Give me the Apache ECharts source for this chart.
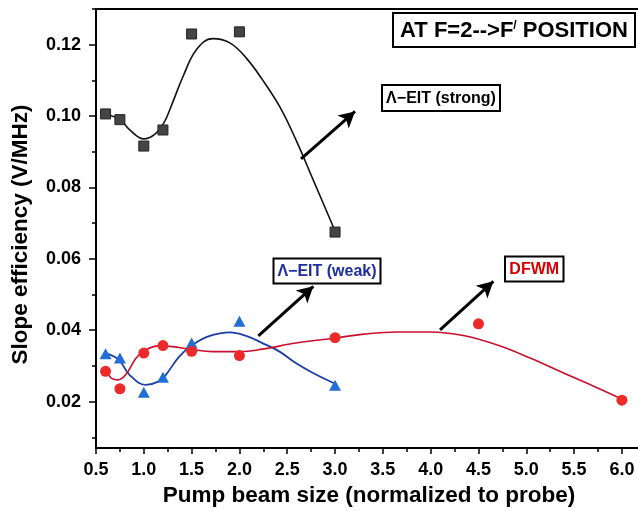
<!DOCTYPE html>
<html>
<head>
<meta charset="utf-8">
<script src="https://cdn.jsdelivr.net/npm/echarts@6/dist/echarts.min.js"></script>
<style>
    html, body { margin: 0; padding: 0; background: #fff; }
    #chart { width: 638px; height: 511px; }
</style>
</head>
<body>
<div id="chart"></div>
<script>
// measured points
var pumpX = [0.6, 0.75, 1.0, 1.2, 1.5, 2.0, 3.0];
var strongY = [0.1006, 0.0990, 0.0916, 0.0961, 0.1230, 0.1236, 0.0675];
var weakY = [0.0334, 0.0322, 0.0226, 0.0268, 0.0364, 0.0425, 0.0246];
var dfwmX = [0.6, 0.75, 1.0, 1.2, 1.5, 2.0, 3.0, 4.5, 6.0];
var dfwmY = [0.0285, 0.0236, 0.0336, 0.0357, 0.0341, 0.0329, 0.0379, 0.0418, 0.0204];

// fitted curves
var strongFitX = [0.6, 0.75, 0.85, 1.0, 1.11, 1.21, 1.3, 1.41, 1.55, 1.72, 1.9, 2.07, 2.24, 2.42, 2.59, 2.77, 3.0];
var strongFitY = [0.1006, 0.0990, 0.0962, 0.0936, 0.0948, 0.0981, 0.1037, 0.1111, 0.1186, 0.1217, 0.1205, 0.1163, 0.1102, 0.1027, 0.0934, 0.0822, 0.0678];
var weakFitX = [0.6, 0.74, 0.85, 1.02, 1.15, 1.23, 1.37, 1.51, 1.69, 1.9, 2.07, 2.24, 2.42, 2.59, 2.77, 3.0];
var weakFitY = [0.0336, 0.0317, 0.0275, 0.0247, 0.0256, 0.0275, 0.0326, 0.0359, 0.0384, 0.0394, 0.0384, 0.0364, 0.0340, 0.0308, 0.0280, 0.0250];
var dfwmFitX = [0.6, 0.66, 0.73, 0.81, 0.92, 1.02, 1.16, 1.3, 1.48, 1.72, 2.0, 2.24, 2.59, 3.0, 3.3, 3.65, 4.0, 4.34, 4.69, 5.04, 5.39, 5.74, 6.0];
var dfwmFitY = [0.0288, 0.0266, 0.0261, 0.0275, 0.0322, 0.0345, 0.0356, 0.0354, 0.0347, 0.0340, 0.0340, 0.0347, 0.0364, 0.0378, 0.0389, 0.0395, 0.0395, 0.0385, 0.0359, 0.0322, 0.0280, 0.0239, 0.0207];

// axis ticks
var yLabels = [0.02, 0.04, 0.06, 0.08, 0.10, 0.12];
var yMinor = [0.01, 0.03, 0.05, 0.07, 0.09, 0.11, 0.13];

var FONT = '"Liberation Sans", Arial, sans-serif';

function pairs(xs, ys) {
    return xs.map(function (x, i) { return [x, ys[i]]; });
}

function arrow(from, to) {
    return [{ coord: from }, { coord: to }];
}

function box(x, y, w, h, text, size, color) {
    return [{
        type: 'rect',
        shape: { x: x, y: y, width: w, height: h },
        style: { fill: '#fff', stroke: '#000', lineWidth: 2 },
        z: 10
    }, {
        type: 'text',
        x: x + w / 2,
        y: y + h / 2 + 1,
        style: {
            text: text,
            font: 'bold ' + size + 'px ' + FONT,
            fill: color,
            align: 'center',
            verticalAlign: 'middle'
        },
        z: 11
    }];
}

var chart = echarts.init(document.getElementById('chart'));

var graphics = [].concat(
    [{
        type: 'rect',
        shape: { x: 393, y: 13, width: 242, height: 34 },
        style: { fill: '#fff', stroke: '#000', lineWidth: 2 },
        z: 10
    }, {
        type: 'text',
        x: 514,
        y: 31,
        style: {
            text: '{a|AT F=2-->F}{s|/}{a| POSITION}',
            align: 'center',
            verticalAlign: 'middle',
            rich: {
                a: { font: 'bold 22px ' + FONT, fill: '#000' },
                s: { font: 'bold 12px ' + FONT, fill: '#000', verticalAlign: 'top', padding: [0, 0, 8, 0] }
            }
        },
        z: 11
    }],
    box(382, 85, 118, 26, 'Λ−EIT (strong)', 16, '#000'),
    box(273.5, 258.5, 107, 25, 'Λ−EIT (weak)', 16, '#1c2ea0'),
    box(505, 256.5, 58.5, 25, 'DFWM', 16, '#d50000')
);

chart.setOption({
    animation: false,
    // right edge of the frame sits just past the picture
    grid: {
        left: 96, top: 9, width: 546, bottom: 63,
        outerBoundsMode: 'none',
        show: true, borderColor: '#000', borderWidth: 2
    },
    xAxis: {
        type: 'value',
        min: 0.5, max: 6.21, interval: 0.5,
        name: 'Pump beam size (normalized to probe)',
        nameLocation: 'middle',
        nameGap: 36,
        nameTextStyle: { fontFamily: FONT, fontWeight: 'bold', fontSize: 22.5, color: '#000' },
        axisLine: { lineStyle: { color: '#000', width: 2 } },
        axisTick: { length: 6, lineStyle: { color: '#000', width: 1.5 } },
        minorTick: { show: true, splitNumber: 2, length: 4, lineStyle: { color: '#000', width: 1.5 } },
        splitLine: { show: false },
        axisLabel: {
            margin: 13, showMaxLabel: false,
            fontFamily: FONT, fontWeight: 'bold', fontSize: 18, color: '#000',
            formatter: function (v) { return v.toFixed(1); }
        }
    },
    yAxis: [{
        type: 'value',
        min: 0.007, max: 0.13,
        name: 'Slope efficiency (V/MHz)',
        nameLocation: 'middle',
        nameGap: 64,
        nameTextStyle: { fontFamily: FONT, fontWeight: 'bold', fontSize: 22.5, color: '#000', padding: [0, 12, 0, 0] },
        axisLine: { show: true, lineStyle: { color: '#000', width: 2 } },
        axisTick: { show: true, length: 7, customValues: yLabels, lineStyle: { color: '#000', width: 1.5 } },
        splitLine: { show: false },
        axisLabel: {
            margin: 15, customValues: yLabels,
            fontFamily: FONT, fontWeight: 'bold', fontSize: 18, color: '#000',
            formatter: function (v) { return v.toFixed(2); }
        }
    }, {
        // minor ticks only
        type: 'value',
        position: 'left',
        min: 0.007, max: 0.13,
        axisLine: { show: false },
        axisTick: { show: true, length: 4, customValues: yMinor, lineStyle: { color: '#000', width: 1.5 } },
        axisLabel: { show: false },
        splitLine: { show: false }
    }],
    graphic: graphics,
    series: [{
        type: 'line',
        data: pairs(strongFitX, strongFitY),
        smooth: 0.4,
        showSymbol: false,
        lineStyle: { color: '#111', width: 1.6 },
        z: 2,
        markLine: {
            silent: true,
            symbol: ['none', 'arrow'],
            symbolSize: [13, 16],
            label: { show: false },
            lineStyle: { color: '#000', width: 3, type: 'solid' },
            data: [
                arrow([2.644, 0.088], [3.209, 0.1013]),
                arrow([2.198, 0.0384], [2.773, 0.0523]),
                arrow([4.098, 0.0401], [4.656, 0.0537])
            ]
        }
    }, {
        type: 'line',
        data: pairs(weakFitX, weakFitY),
        smooth: 0.4,
        showSymbol: false,
        lineStyle: { color: '#1a3fa8', width: 1.8 },
        z: 2
    }, {
        type: 'line',
        data: pairs(dfwmFitX, dfwmFitY),
        smooth: 0.4,
        showSymbol: false,
        lineStyle: { color: '#c8102e', width: 1.6 },
        z: 2
    }, {
        type: 'scatter',
        data: pairs(pumpX, strongY),
        symbol: 'rect',
        symbolSize: 10,
        itemStyle: { color: '#444', borderColor: '#222', borderWidth: 1, opacity: 1 },
        z: 3
    }, {
        type: 'scatter',
        data: pairs(pumpX, weakY),
        symbol: 'triangle',
        symbolSize: [12, 11],
        itemStyle: { color: '#1f6fd6', opacity: 1 },
        z: 3
    }, {
        type: 'scatter',
        data: pairs(dfwmX, dfwmY),
        symbol: 'circle',
        symbolSize: 11,
        itemStyle: { color: '#ec2a2a', opacity: 1 },
        z: 3
    }]
});
</script>
</body>
</html>
